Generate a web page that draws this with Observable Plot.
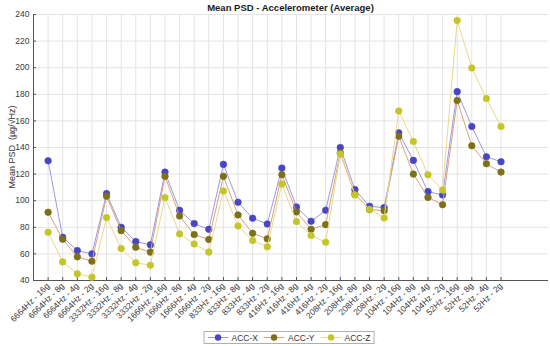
<!DOCTYPE html>
<html><head><meta charset="utf-8">
<script src="https://cdn.jsdelivr.net/npm/d3@7"></script>
<script src="https://cdn.jsdelivr.net/npm/@observablehq/plot@0.6"></script>
<style>
body{margin:0;background:#fff;font-family:"Liberation Sans",Arial,sans-serif}
#wrap{position:relative;width:550px;height:346px;overflow:hidden}
#chart{position:absolute;left:0;top:0}
#title{position:absolute;top:2px;left:33px;width:515px;text-align:center;font-weight:bold;font-size:9.5px;line-height:12px;color:#1a1a1a}
#ylabel{position:absolute;left:12px;top:147px;transform:translate(-50%,-50%) rotate(-90deg);white-space:nowrap;font-size:9px;color:#333}
#legend{position:absolute;left:289px;top:331px;transform:translateX(-50%);height:11px;padding:0 3px 0 1px;border:1px solid #b0b0b0;background:#fff;display:inline-flex;align-items:center;font-size:8.5px;color:#333;white-space:nowrap}
#legend .item{display:flex;align-items:center;margin-left:2px;white-space:nowrap;flex:none}
#legend .item + .item{margin-left:6px}
#legend svg{margin-right:3px;flex:none}
</style></head><body>
<div id="wrap"><div id="chart"></div><div id="title">Mean PSD - Accelerometer (Average)</div><div id="ylabel">Mean PSD&nbsp;&nbsp;(µg/√Hz)</div><div id="legend"></div></div>
<script>
const categories = [
  "6664Hz - 16g","6664Hz - 8g","6664Hz - 4g","6664Hz - 2g",
  "3332Hz - 16g","3332Hz - 8g","3332Hz - 4g","3332Hz - 2g",
  "1666Hz - 16g","1666Hz - 8g","1666Hz - 4g","1666Hz - 2g",
  "833Hz - 16g","833Hz - 8g","833Hz - 4g","833Hz - 2g",
  "416Hz - 16g","416Hz - 8g","416Hz - 4g","416Hz - 2g",
  "208Hz - 16g","208Hz - 8g","208Hz - 4g","208Hz - 2g",
  "104Hz - 16g","104Hz - 8g","104Hz - 4g","104Hz - 2g",
  "52Hz - 16g","52Hz - 8g","52Hz - 4g","52Hz - 2g"
];
const accX = [130, 72.5, 62.5, 60, 105.3, 80, 69.3, 66.8, 121.5, 92.8, 82.8, 78.5,
  127.3, 98.8, 86.8, 82.5, 124.5, 95.3, 84.5, 92.8, 140, 108.3, 95.8, 94.8,
  151, 130.3, 106.8, 104.3, 182, 155.8, 133, 129.3];
const accY = [91.3, 71, 57.8, 54.5, 103.3, 77.5, 65, 61.3, 118.3, 88.5, 74.5, 70.8,
  118.3, 89.3, 75.5, 71.3, 119.5, 91.5, 78.5, 82, 136, 105, 93.3, 92.5,
  148.5, 120, 102.5, 97, 175.3, 141.3, 127.8, 121.5];
const accZ = [76.3, 54, 45, 42.5, 87.3, 64, 53.3, 51.5, 102.3, 75, 67.5, 61.3,
  107.3, 81, 70, 65.3, 112.5, 84.3, 73.8, 68.8, 135, 104.3, 93.5, 87,
  167.5, 144.5, 119.5, 108, 235.5, 199.8, 176.8, 155.8];
const seriesNames = ["ACC-X", "ACC-Y", "ACC-Z"];
const yTicks = [40, 60, 80, 100, 120, 140, 160, 180, 200, 220, 240];

const seriesValues = [accX, accY, accZ];
const markerColors = ["#4846c2", "#7c7018", "#c4c52a"];
const lineColors = ["#9c9ae0", "#d8a27c", "#e9d98c"];
const idx = categories.map((c, i) => i + 1);

const marks = [
  Plot.gridY(yTicks, {stroke: "#e4e4e4", strokeOpacity: 1}),
  Plot.gridX(idx, {stroke: "#e4e4e4", strokeOpacity: 1}),
  Plot.ruleX([0], {stroke: "#555"}),
  Plot.ruleY([40], {stroke: "#555"}),
  Plot.tickX(idx, {x: d => d, stroke: "#555", insetTop: 263}),
  Plot.tickY(yTicks, {y: d => d, stroke: "#555", insetRight: 512}),
  Plot.axisX(idx, {tickFormat: i => categories[i - 1], tickRotate: -45, tickSize: 0, tickPadding: 4, label: null, fill: "#3a3a3a"}),
  Plot.axisY(yTicks, {tickSize: 0, tickPadding: 4, label: null, fill: "#3a3a3a"})
];
seriesValues.forEach((vals, s) => {
  const rows = vals.map((v, i) => ({i: i + 1, v}));
  marks.push(Plot.line(rows, {x: "i", y: "v", stroke: lineColors[s], strokeWidth: 1}));
  marks.push(Plot.dot(rows, {x: "i", y: "v", r: 3.3, fill: markerColors[s], stroke: markerColors[s], strokeWidth: 0.6}));
});

const chart = Plot.plot({
  width: 550, height: 346,
  marginLeft: 33, marginRight: 2, marginTop: 14, marginBottom: 66,
  style: {fontFamily: "'Liberation Sans', Arial, sans-serif", fontSize: "8.5px", color: "#333", background: "transparent"},
  x: {type: "linear", domain: [0, 35.25]},
  y: {domain: [40, 240]},
  marks
});
document.getElementById("chart").appendChild(chart);

const legend = document.getElementById("legend");
seriesNames.forEach((name, s) => {
  const item = document.createElement("div");
  item.className = "item";
  item.innerHTML = `<svg width="21" height="9"><line x1="0" x2="21" y1="4.5" y2="4.5" stroke="${lineColors[s]}" stroke-width="1"/><circle cx="10.5" cy="4.5" r="3.2" fill="${markerColors[s]}"/></svg><span>${name}</span>`;
  legend.appendChild(item);
});
</script>
</body></html>
